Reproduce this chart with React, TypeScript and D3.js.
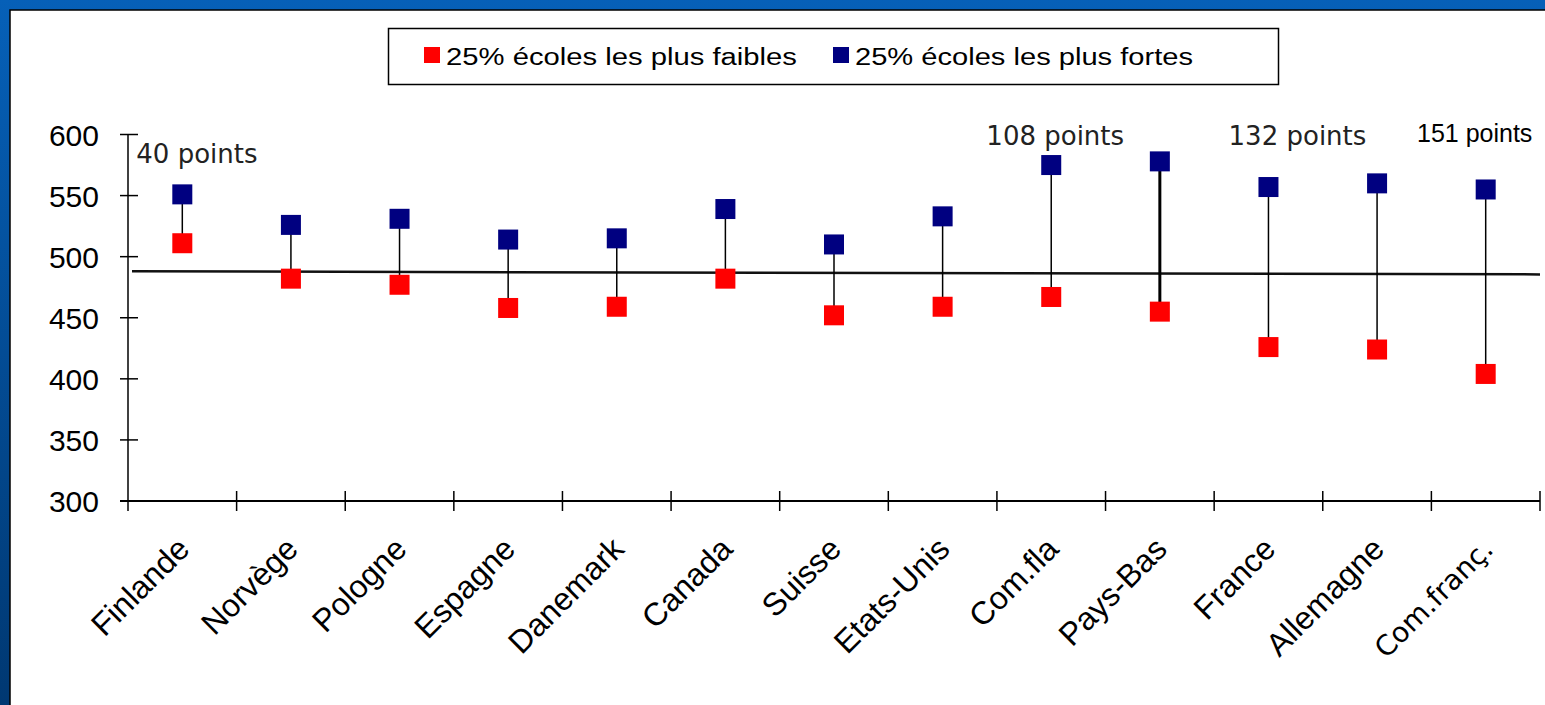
import React from "react";
import * as d3 from "d3";

const categories = ["Finlande", "Norvège", "Pologne", "Espagne", "Danemark", "Canada", "Suisse", "Etats-Unis", "Com.fla", "Pays-Bas", "France", "Allemagne", "Com.franç."];
const weakest = [511, 482, 477, 458, 459, 482, 452, 459, 467, 455, 426, 424, 404];
const strongest = [551, 526, 531, 514, 515, 539, 510, 533, 575, 578, 557, 560, 555];
const meanLine = [488, 485.5];
const yTicks = [300, 350, 400, 450, 500, 550, 600];
const seriesNames = ["25% écoles les plus faibles", "25% écoles les plus fortes"];
const annotationTexts = ["40 points", "108 points", "132 points", "151 points"];
const annotationCategories = ["Finlande", "Com.fla", "France", "Com.franç."];
const annotationValues = [577, 591.5, 591.5, 594];
const thickStems = ["Pays-Bas"];
const dejavuLabels = ["Com.franç."];

const W = 1545;
const H = 705;
const RED = "#ff0000";
const BLUE = "#000080";
const ARIAL = "'Liberation Sans', Arial, sans-serif";
const DEJAVU = "'DejaVu Sans', Verdana, sans-serif";

export default function App() {
  const x = d3.scaleBand<string>().domain(categories).range([128, 1540]).padding(0);
  const y = d3.scaleLinear().domain([300, 600]).range([501, 134.5]);
  const cx = (c: string) => (x(c) as number) + x.bandwidth() / 2;
  const sq = 20;

  const meanX = d3.scaleLinear().domain([0, meanLine.length - 1]).range([132, 1540]);
  const meanPath = d3.line<number>().x((_, i) => meanX(i)).y((v) => y(v))(meanLine) as string;

  const annOffsets = [-46, 4, 29, -11];
  const annFonts = [DEJAVU, DEJAVU, DEJAVU, ARIAL];

  return (
    <svg width={W} height={H} style={{ position: "absolute", left: 0, top: 0 }} xmlns="http://www.w3.org/2000/svg">
      <defs>
        <linearGradient id="bg" x1="0" y1="0" x2="0" y2="1">
          <stop offset="0" stopColor="#0660b8" />
          <stop offset="1" stopColor="#003872" />
        </linearGradient>
      </defs>
      <rect x={0} y={0} width={W} height={H} fill="url(#bg)" />
      <rect x={10} y={10} width={W} height={H} fill="#ffffff" stroke="#000" strokeWidth={1.5} />

      {/* legend */}
      <rect x={388.5} y={28.5} width={890} height={56} fill="#fff" stroke="#000" strokeWidth={1.5} />
      <rect x={424} y={47} width={16} height={16} fill={RED} />
      <text x={446} y={65} fontFamily={ARIAL} fontSize={23} textLength={351} lengthAdjust="spacingAndGlyphs" fill="#000">{seriesNames[0]}</text>
      <rect x={833} y={47} width={16} height={16} fill={BLUE} />
      <text x={855} y={65} fontFamily={ARIAL} fontSize={23} textLength={338} lengthAdjust="spacingAndGlyphs" fill="#000">{seriesNames[1]}</text>

      {/* y axis */}
      <line x1={128} x2={128} y1={y(600)} y2={511} stroke="#000" strokeWidth={1.5} />
      {yTicks.map((t) => (
        <g key={t}>
          <line x1={120} x2={138} y1={y(t)} y2={y(t)} stroke="#000" strokeWidth={1.5} />
          <text x={99} y={y(t) + 11} textAnchor="end" fontFamily={ARIAL} fontSize={30} fill="#000">{t}</text>
        </g>
      ))}

      {/* x axis */}
      <line x1={120} x2={1540} y1={y(300)} y2={y(300)} stroke="#000" strokeWidth={2} />
      {categories.map((c) => (
        <line key={"t" + c} x1={(x(c) as number) + x.bandwidth()} x2={(x(c) as number) + x.bandwidth()} y1={491} y2={511} stroke="#000" strokeWidth={1.5} />
      ))}
      {categories.map((c) => {
        const ax = cx(c) + 9;
        const ay = 551;
        const dv = dejavuLabels.includes(c);
        return (
          <text key={"l" + c} x={ax} y={ay} transform={`rotate(-45 ${ax} ${ay})`} textAnchor="end" fontFamily={dv ? DEJAVU : ARIAL} fontSize={dv ? 28 : 32} fill="#000">{c}</text>
        );
      })}

      {/* mean line */}
      <path d={meanPath} fill="none" stroke="#111" strokeWidth={2.5} />

      {/* stems */}
      {categories.map((c, i) => (
        <line key={"s" + c} x1={cx(c)} x2={cx(c)} y1={y(weakest[i])} y2={y(strongest[i])} stroke="#000" strokeWidth={thickStems.includes(c) ? 3 : 1.5} />
      ))}

      {/* markers */}
      {categories.map((c, i) => (
        <g key={"m" + c}>
          <rect x={cx(c) - sq / 2} y={y(weakest[i]) - sq / 2} width={sq} height={sq} fill={RED} />
          <rect x={cx(c) - sq / 2} y={y(strongest[i]) - sq / 2} width={sq} height={sq} fill={BLUE} />
        </g>
      ))}

      {/* annotations */}
      {annotationTexts.map((t, i) => {
        const c = annotationCategories[i];
        const isArial = annFonts[i] === ARIAL;
        return (
          <text key={"a" + t} x={cx(c) + annOffsets[i]} y={y(annotationValues[i])} textAnchor={i === 0 ? "start" : "middle"} fontFamily={annFonts[i]} fontSize={isArial ? 25 : 26} fill={isArial ? "#000" : "#222"}>{t}</text>
        );
      })}
    </svg>
  );
}
